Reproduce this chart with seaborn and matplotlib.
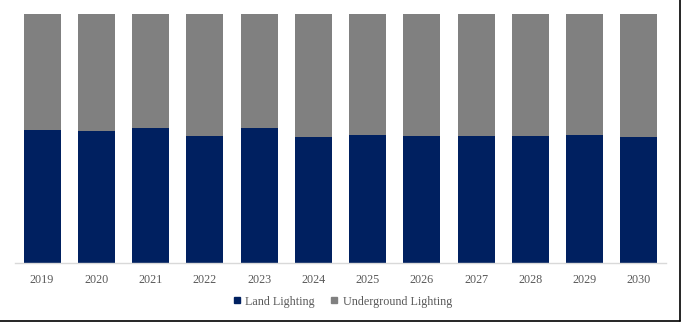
import matplotlib
matplotlib.use("Agg")
import matplotlib.pyplot as plt
from matplotlib.lines import Line2D
import seaborn as sns
import pandas as pd
import numpy as np

# Market share by segment (%), 2019-2030
years = ["2019", "2020", "2021", "2022", "2023", "2024",
         "2025", "2026", "2027", "2028", "2029", "2030"]
land_lighting = [53.4, 53.0, 54.0, 50.9, 54.1, 50.4, 51.2, 50.9, 51.0, 51.0, 51.2, 50.6]
underground_lighting = [100 - v for v in land_lighting]

series_names = ["Land Lighting", "Underground Lighting"]
series_colors = ["#002060", "#808080"]

sns.set_theme(style="white")
plt.rcParams["font.family"] = ["Liberation Serif", "DejaVu Serif"]

df = pd.DataFrame({
    "year": years,
    "land": land_lighting,
    "underground": underground_lighting,
})
df["total"] = df["land"] + df["underground"]

fig = plt.figure(figsize=(6.81, 3.22), dpi=100)
ax = fig.add_axes([15 / 681, 1 - 262.5 / 322, (666 - 15) / 681, (262.5 - 14) / 322])

# Stacked bars: full-height underground layer, land layer drawn over it
sns.barplot(data=df, x="year", y="total", color=series_colors[1], width=0.68,
            saturation=1, ax=ax, linewidth=0)
sns.barplot(data=df, x="year", y="land", color=series_colors[0], width=0.68,
            saturation=1, ax=ax, linewidth=0)

ax.set_ylim(0, 100)
ax.set_xlim(-0.5, len(years) - 0.5)
ax.set_xlabel("")
ax.set_ylabel("")
ax.set_yticks([])
for side in ["top", "left", "right"]:
    ax.spines[side].set_visible(False)
ax.spines["bottom"].set_color("#d9d9d9")
ax.spines["bottom"].set_linewidth(1)
ax.tick_params(axis="x", length=0, pad=8, labelsize=8.7, labelcolor="#595959")

handles = [Line2D([], [], marker="s", linestyle="", markersize=4,
                  markerfacecolor=c, markeredgecolor=c) for c in series_colors]
fig.legend(handles, series_names, loc="center", bbox_to_anchor=(0.502, 1 - 301.5 / 322),
           ncol=2, frameon=False, fontsize=8.7, handletextpad=0.3, columnspacing=1.2,
           handlelength=0.8, labelcolor="#595959")

# Frame lines along the right and bottom edges
fig.add_artist(Line2D([0, 680 / 681], [1 - 320.5 / 322, 1 - 320.5 / 322],
                      transform=fig.transFigure, color="black", lw=1.2))
fig.add_artist(Line2D([680 / 681, 680 / 681], [1 - 320.5 / 322, 1],
                      transform=fig.transFigure, color="black", lw=1.2))

fig.savefig("out.png", dpi=100)
